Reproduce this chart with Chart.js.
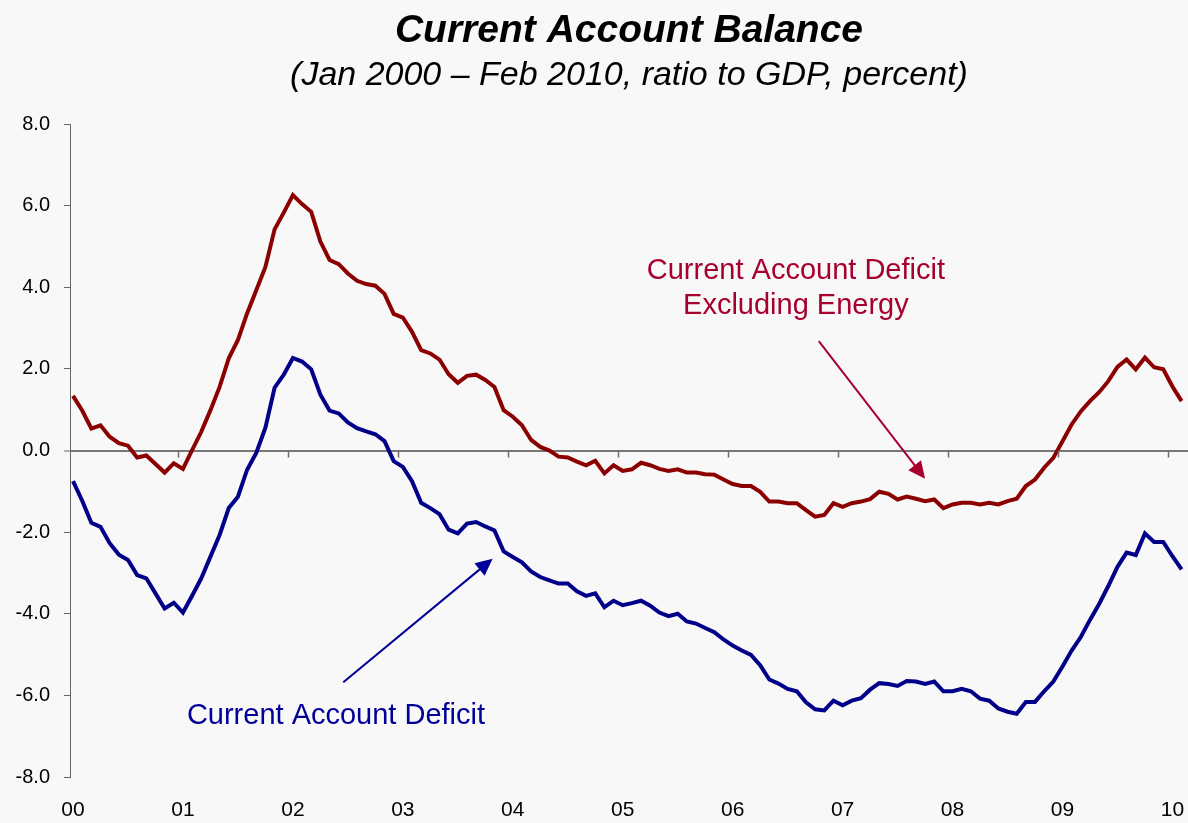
<!DOCTYPE html>
<html>
<head>
<meta charset="utf-8">
<title>Current Account Balance</title>
<script src="https://cdn.jsdelivr.net/npm/chart.js@4.4.1/dist/chart.umd.min.js"></script>
<style>
  html, body { margin: 0; padding: 0; background: #f8f8f8; }
  #wrap { width: 1188px; height: 823px; }
</style>
</head>
<body>
<div id="wrap"><canvas id="ca-chart" width="1188" height="823"></canvas></div>
<script>
// monthly, Jan 2000 .. Feb 2010 (122 months), ratio to GDP in percent
const yearLabels = ['00', '01', '02', '03', '04', '05', '06', '07', '08', '09', '10'];
const yTicks = [-8, -6, -4, -2, 0, 2, 4, 6, 8];

const deficitExEnergy = [
    1.34, 0.98, 0.54, 0.62, 0.34, 0.18, 0.12, -0.17, -0.12, -0.33, -0.54, -0.31,
    -0.45, 0.01, 0.46, 0.99, 1.56, 2.26, 2.71, 3.36, 3.93, 4.50, 5.42, 5.83,
    6.26, 6.04, 5.85, 5.12, 4.67, 4.57, 4.34, 4.16, 4.08, 4.04, 3.84, 3.35,
    3.26, 2.91, 2.46, 2.38, 2.23, 1.87, 1.66, 1.83, 1.86, 1.73, 1.56, 0.99,
    0.83, 0.62, 0.26, 0.09, 0.00, -0.15, -0.17, -0.27, -0.36, -0.25, -0.56, -0.36,
    -0.50, -0.46, -0.30, -0.36, -0.45, -0.50, -0.46, -0.54, -0.54, -0.58, -0.59, -0.71,
    -0.82, -0.87, -0.87, -1.01, -1.25, -1.25, -1.29, -1.29, -1.46, -1.62, -1.58, -1.29,
    -1.38, -1.29, -1.25, -1.19, -1.01, -1.06, -1.20, -1.13, -1.18, -1.24, -1.20, -1.41,
    -1.32, -1.28, -1.28, -1.32, -1.28, -1.32, -1.24, -1.18, -0.87, -0.71, -0.42, -0.18,
    0.23, 0.64, 0.96, 1.21, 1.43, 1.70, 2.05, 2.23, 1.99, 2.28, 2.04, 1.99,
    1.57, 1.21
];

const deficitTotal = [
    -0.75, -1.23, -1.77, -1.87, -2.27, -2.55, -2.68, -3.05, -3.13, -3.50, -3.87, -3.73,
    -3.97, -3.56, -3.13, -2.60, -2.07, -1.41, -1.13, -0.47, -0.06, 0.56, 1.54, 1.86,
    2.27, 2.18, 1.99, 1.37, 0.98, 0.91, 0.69, 0.55, 0.47, 0.40, 0.23, -0.26,
    -0.40, -0.75, -1.28, -1.41, -1.56, -1.94, -2.03, -1.79, -1.75, -1.86, -1.96, -2.47,
    -2.61, -2.74, -2.96, -3.10, -3.18, -3.26, -3.26, -3.45, -3.56, -3.50, -3.84, -3.68,
    -3.79, -3.74, -3.68, -3.80, -3.97, -4.06, -4.00, -4.19, -4.24, -4.35, -4.45, -4.63,
    -4.78, -4.90, -5.01, -5.26, -5.61, -5.71, -5.84, -5.90, -6.17, -6.34, -6.37, -6.13,
    -6.24, -6.13, -6.07, -5.86, -5.70, -5.72, -5.77, -5.65, -5.66, -5.72, -5.66, -5.90,
    -5.90, -5.84, -5.90, -6.08, -6.13, -6.32, -6.40, -6.45, -6.16, -6.16, -5.90, -5.66,
    -5.29, -4.90, -4.57, -4.15, -3.76, -3.32, -2.85, -2.50, -2.56, -2.03, -2.24, -2.24,
    -2.59, -2.91
];

const FONT = "'Liberation Sans', Arial, sans-serif";
const RED = '#8b0000';
const BLUE = '#000088';

// text + arrow callouts, placed in data units (month index, percent)
const callouts = [
    { lines: ['Current Account Deficit', 'Excluding Energy'], x: 78.9, y: [4.39, 3.54],
      color: '#a8002e', from: [81.4, 2.68], to: [93.0, -0.69] },
    { lines: ['Current Account Deficit'], x: 28.7, y: [-6.5],
      color: '#000099', from: [29.5, -5.68], to: [45.8, -2.65] }
];

function toPoints(values) {
    return values.map((v, i) => ({ x: i, y: v }));
}

const background = {
    id: 'background',
    beforeDraw(chart) {
        const c = chart.ctx;
        c.save();
        c.fillStyle = '#f8f8f8';
        c.fillRect(0, 0, chart.width, chart.height);
        c.restore();
    }
};

// small year ticks hanging off the zero line
const yearTicks = {
    id: 'yearTicks',
    afterDraw(chart) {
        const xs = chart.scales.x, ys = chart.scales.y;
        const c = chart.ctx;
        const y0 = ys.getPixelForValue(0);
        c.save();
        c.strokeStyle = '#6e6e6e';
        c.lineWidth = 1.5;
        for (let k = 1; k < yearLabels.length; k++) {
            const px = Math.round(xs.getPixelForValue(k * 12 - 0.5)) + 0.5;
            c.beginPath();
            c.moveTo(px, y0);
            c.lineTo(px, y0 + 7);
            c.stroke();
        }
        c.restore();
    }
};

function drawArrow(c, x1, y1, x2, y2, color, width) {
    const ang = Math.atan2(y2 - y1, x2 - x1);
    const len = 17, half = 8;
    c.strokeStyle = color;
    c.fillStyle = color;
    c.lineWidth = width;
    c.beginPath();
    c.moveTo(x1, y1);
    c.lineTo(x2 - Math.cos(ang) * len * 0.8, y2 - Math.sin(ang) * len * 0.8);
    c.stroke();
    c.beginPath();
    c.moveTo(x2, y2);
    c.lineTo(x2 - Math.cos(ang) * len - Math.sin(ang) * half, y2 - Math.sin(ang) * len + Math.cos(ang) * half);
    c.lineTo(x2 - Math.cos(ang) * len + Math.sin(ang) * half, y2 - Math.sin(ang) * len - Math.cos(ang) * half);
    c.closePath();
    c.fill();
}

const calloutPlugin = {
    id: 'callouts',
    afterDatasetsDraw(chart) {
        const xs = chart.scales.x, ys = chart.scales.y;
        const c = chart.ctx;
        c.save();
        c.font = '29px ' + FONT;
        c.textAlign = 'center';
        c.textBaseline = 'middle';
        callouts.forEach(co => {
            c.fillStyle = co.color;
            co.lines.forEach((t, i) => {
                c.fillText(t, xs.getPixelForValue(co.x), ys.getPixelForValue(co.y[i]));
            });
            drawArrow(c,
                xs.getPixelForValue(co.from[0]), ys.getPixelForValue(co.from[1]),
                xs.getPixelForValue(co.to[0]), ys.getPixelForValue(co.to[1]),
                co.color, 2);
        });
        c.restore();
    }
};

const ctx = document.getElementById('ca-chart').getContext('2d');

new Chart(ctx, {
    type: 'line',
    data: {
        datasets: [{
            label: 'Current Account Deficit Excluding Energy',
            data: toPoints(deficitExEnergy),
            borderColor: RED,
            borderWidth: 4,
            pointRadius: 0,
            tension: 0,
            fill: false
        }, {
            label: 'Current Account Deficit',
            data: toPoints(deficitTotal),
            borderColor: BLUE,
            borderWidth: 4,
            pointRadius: 0,
            tension: 0,
            fill: false
        }]
    },
    options: {
        responsive: false,
        animation: false,
        layout: { padding: 0 },
        plugins: {
            legend: { display: false },
            tooltip: { enabled: false },
            title: {
                display: true,
                text: 'Current Account Balance',
                color: '#000',
                fullSize: false,
                font: { family: FONT, size: 39, weight: 'bold', style: 'italic', lineHeight: 1.2 },
                padding: { top: 8, bottom: 0 }
            },
            subtitle: {
                display: true,
                text: '(Jan 2000 \u2013 Feb 2010, ratio to GDP, percent)',
                color: '#000',
                fullSize: false,
                font: { family: FONT, size: 34, style: 'italic', lineHeight: 1.2 },
                padding: { top: 0, bottom: 28.5 }
            }
        },
        scales: {
            x: {
                type: 'linear',
                min: -0.33,
                max: 121.7,
                afterFit: s => { s.height = 46; },
                afterBuildTicks: s => { s.ticks = yearLabels.map((_, i) => ({ value: i * 12 })); },
                border: { display: false },
                grid: {
                    display: true,
                    drawOnChartArea: false,
                    drawTicks: true,
                    tickLength: 21,
                    tickColor: 'rgba(0,0,0,0)',
                    color: 'rgba(0,0,0,0)'
                },
                ticks: {
                    autoSkip: false,
                    maxRotation: 0,
                    padding: 0,
                    color: '#000',
                    font: { family: FONT, size: 21 },
                    callback: v => yearLabels[Math.round(v / 12)]
                }
            },
            y: {
                min: -8,
                max: 8,
                afterFit: s => { s.width = 70; },
                afterBuildTicks: s => { s.ticks = yTicks.map(v => ({ value: v })); },
                border: { display: true, color: '#666', width: 1 },
                grid: {
                    drawOnChartArea: true,
                    color: c => (c.tick && c.tick.value === 0 ? '#777' : 'rgba(0,0,0,0)'),
                    lineWidth: c => (c.tick && c.tick.value === 0 ? 2 : 1),
                    tickColor: '#666',
                    tickWidth: 1,
                    tickLength: 6
                },
                ticks: {
                    padding: 14,
                    color: '#000',
                    font: { family: FONT, size: 20 },
                    callback: v => v.toFixed(1)
                }
            }
        }
    },
    plugins: [background, yearTicks, calloutPlugin]
});
</script>
</body>
</html>
